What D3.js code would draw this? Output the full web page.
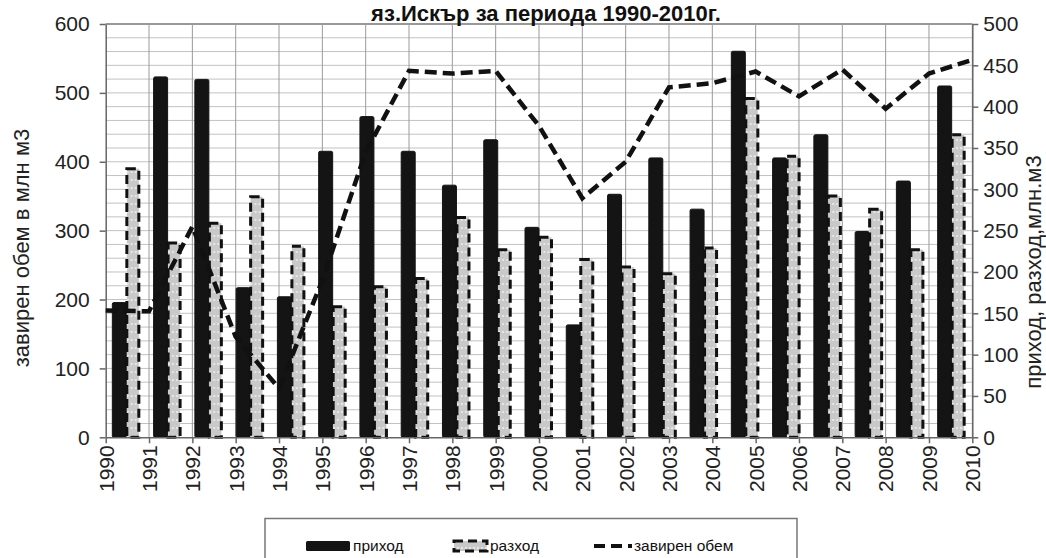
<!DOCTYPE html>
<html>
<head>
<meta charset="utf-8">
<script src="https://cdn.jsdelivr.net/npm/d3@7"></script>
<style>
  html, body { margin: 0; padding: 0; background: #fff; }
  svg { display: block; font-family: "Liberation Sans", Arial, sans-serif; }
</style>
</head>
<body>
<svg id="chart" width="1046" height="558"></svg>
<script>
// Years along the category axis
const years = ["1990","1991","1992","1993","1994","1995","1996","1997","1998","1999","2000",
               "2001","2002","2003","2004","2005","2006","2007","2008","2009","2010"];

// Inflow and outflow, million m3 (right axis)
const inflow  = [163, 436, 433, 181, 170, 346, 388, 346, 305, 360, 254,
                 136, 294, 338, 276, 467, 338, 366, 249, 310, 425];
const outflow = [325, 235, 259, 291, 231, 158, 182, 192, 266, 227, 242,
                 215, 206, 198, 229, 410, 340, 292, 276, 227, 366];

// Stored volume, million m3 (left axis)
const storage = [184, 183, 306, 146, 71, 228, 414, 532, 528, 532, 452,
                 347, 400, 508, 514, 531, 495, 534, 477, 528, 548];

const leftTicks  = [0, 100, 200, 300, 400, 500, 600];
const rightTicks = [0, 50, 100, 150, 200, 250, 300, 350, 400, 450, 500];

const seriesNames = ["приход", "разход", "завирен обем"];
const titleText = "яз.Искър за периода 1990-2010г.";
const leftTitle = "завирен обем в млн м3";
const rightTitle = "приход, разход,млн.м3";

const svg = d3.select("#chart");
const plot = { left: 105.7, right: 972.3, top: 24, bottom: 437.3 };

const xPoint = d3.scalePoint().domain(years).range([plot.left, plot.right]).padding(0);
const xBand  = d3.scaleBand().domain(years).range([plot.left, plot.right]).padding(0);
const xSub   = d3.scaleBand().domain(["in", "out"]).range([0, xBand.bandwidth()])
                 .paddingInner(0).paddingOuter(0.474);
const yLeft  = d3.scaleLinear().domain([0, 600]).range([plot.bottom, plot.top]);
const yRight = d3.scaleLinear().domain([0, 500]).range([plot.bottom, plot.top]);

// Pattern for the outflow bars
const defs = svg.append("defs");
const pat = defs.append("pattern").attr("id", "dots")
  .attr("patternUnits", "userSpaceOnUse").attr("width", 4).attr("height", 8);
pat.append("rect").attr("width", 4).attr("height", 8).attr("fill", "#c9c9c9");
pat.append("circle").attr("cx", 2).attr("cy", 4).attr("r", 1.1).attr("fill", "#eeeeee");

// Horizontal gridlines every 20 on the left scale
const gridY = d3.range(0, 601, 20);
svg.append("g").selectAll("line").data(gridY.filter(d => d > 0)).join("line")
  .attr("x1", plot.left).attr("x2", plot.right)
  .attr("y1", d => yLeft(d)).attr("y2", d => yLeft(d))
  .attr("stroke", d => d === 600 ? "#777" : "#c2c2c2").attr("stroke-width", d => d === 600 ? 1.5 : 1);

// Vertical gridlines at each year
svg.append("g").selectAll("line").data(years.slice(1)).join("line")
  .attr("x1", d => xPoint(d)).attr("x2", d => xPoint(d))
  .attr("y1", plot.top).attr("y2", plot.bottom)
  .attr("stroke", "#9a9a9a").attr("stroke-width", 1);

// Title
svg.append("text")
  .attr("x", 546).attr("y", 20.5)
  .attr("text-anchor", "middle")
  .attr("font-size", 22).attr("font-weight", "bold").attr("fill", "#111")
  .text(titleText);

// Bars
const groups = svg.append("g").selectAll("g").data(years).join("g")
  .attr("transform", d => `translate(${xBand(d)},0)`);

groups.append("rect")
  .attr("x", xSub("in")).attr("width", xSub.bandwidth())
  .attr("y", (d, i) => yRight(inflow[i]))
  .attr("height", (d, i) => yRight(0) - yRight(inflow[i]))
  .attr("fill", "#141414").attr("stroke", "#141414").attr("stroke-width", 1)
  .attr("rx", 1.5);

groups.append("rect")
  .attr("x", xSub("out") + 0.5).attr("width", xSub.bandwidth() - 2)
  .attr("y", (d, i) => yRight(outflow[i]))
  .attr("height", (d, i) => yRight(0) - yRight(outflow[i]))
  .attr("fill", "url(#dots)")
  .attr("stroke", "#111").attr("stroke-width", 3)
  .attr("stroke-dasharray", "9,5");

// Axes
const axisColor = "#666";
const gL = svg.append("g").attr("transform", `translate(${plot.left},0)`)
  .call(d3.axisLeft(yLeft).tickValues(leftTicks).tickSize(6).tickSizeOuter(0).tickPadding(10));
const gR = svg.append("g").attr("transform", `translate(${plot.right},0)`)
  .call(d3.axisRight(yRight).tickValues(rightTicks).tickSize(6).tickSizeOuter(0).tickPadding(5));
const gX = svg.append("g").attr("transform", `translate(0,${plot.bottom})`)
  .call(d3.axisBottom(xPoint).tickSize(6).tickSizeOuter(0));

[gL, gR, gX].forEach(g => {
  g.select(".domain").attr("stroke", axisColor).attr("stroke-width", 1.5);
  g.selectAll(".tick line").attr("stroke", axisColor).attr("stroke-width", 1.5);
  g.selectAll(".tick text").attr("font-size", 21).attr("fill", "#222")
    .attr("font-family", "'Liberation Sans', Arial, sans-serif");
});
gX.selectAll(".tick text")
  .attr("transform", "rotate(-90)")
  .attr("text-anchor", "end")
  .attr("x", -8).attr("y", 0).attr("dy", "0.35em");

// Stored volume line
const line = d3.line().x((d, i) => xPoint(years[i])).y(d => yLeft(d));
svg.append("path").datum(storage)
  .attr("d", line)
  .attr("fill", "none").attr("stroke", "#111").attr("stroke-width", 4.5)
  .attr("stroke-dasharray", "12,6");

// Axis titles
svg.append("text")
  .attr("transform", "translate(29,248) rotate(-90)")
  .attr("text-anchor", "middle").attr("font-size", 22).attr("fill", "#222")
  .text(leftTitle);
svg.append("text")
  .attr("transform", "translate(1041,272) rotate(-90)")
  .attr("text-anchor", "middle").attr("font-size", 22).attr("fill", "#222")
  .text(rightTitle);

// Legend
const lg = svg.append("g");
lg.append("rect").attr("x", 265).attr("y", 518.5).attr("width", 532).attr("height", 50)
  .attr("fill", "#fff").attr("stroke", "#777").attr("stroke-width", 1.5);
lg.append("rect").attr("x", 306).attr("y", 541).attr("width", 44).attr("height", 10)
  .attr("fill", "#141414").attr("rx", 1.5);
lg.append("rect").attr("x", 454).attr("y", 541).attr("width", 33).attr("height", 10)
  .attr("fill", "url(#dots)").attr("stroke", "#111").attr("stroke-width", 3)
  .attr("stroke-dasharray", "9,5");
lg.append("line").attr("x1", 594).attr("x2", 632).attr("y1", 546).attr("y2", 546)
  .attr("stroke", "#111").attr("stroke-width", 4).attr("stroke-dasharray", "11,6");
const legendText = [[353, seriesNames[0]], [490, seriesNames[1]], [634, seriesNames[2]]];
lg.selectAll("text.leg").data(legendText).join("text").attr("class", "leg")
  .attr("x", d => d[0]).attr("y", 551)
  .attr("font-size", 15.5).attr("fill", "#111")
  .text(d => d[1]);
</script>
</body>
</html>
